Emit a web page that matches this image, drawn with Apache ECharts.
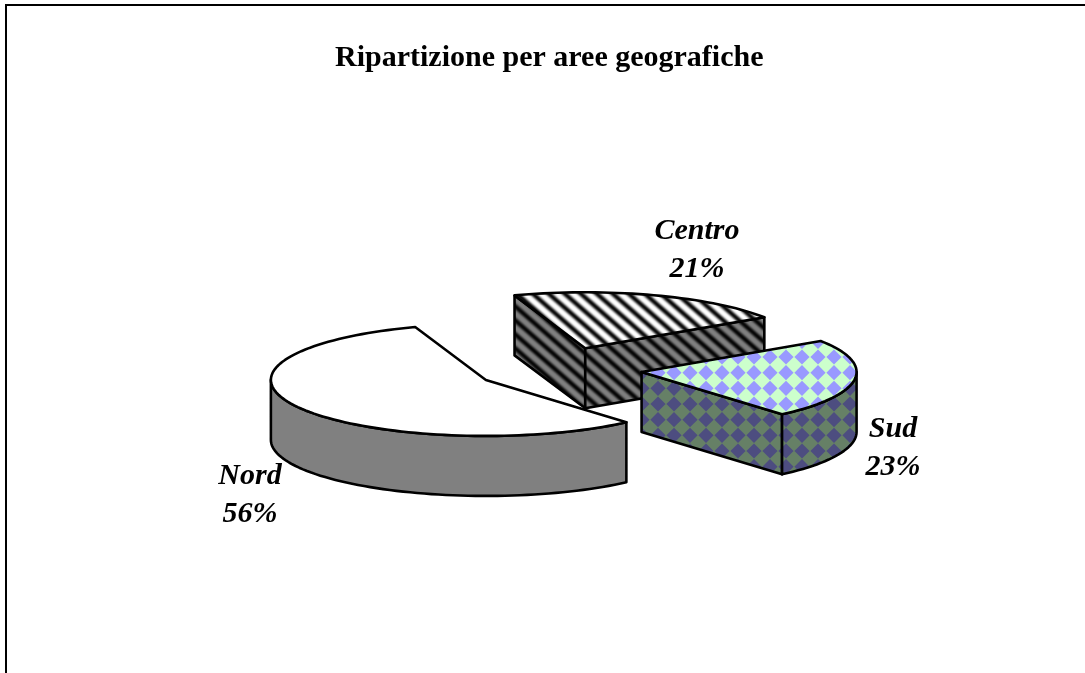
<!DOCTYPE html>
<html>
<head>
<meta charset="utf-8">
<title>Ripartizione per aree geografiche</title>
<style>
  html, body { margin: 0; padding: 0; background: #fff; }
  #chart { width: 1085px; height: 673px; }
</style>
<script src="https://cdn.jsdelivr.net/npm/echarts@6/dist/echarts.min.js"></script>
</head>
<body>
<div id="chart"></div>
<script>
var chartTitle = 'Ripartizione per aree geografiche'
var categories = ['Nord', 'Centro', 'Sud']
var shares = [56, 21, 23]

// pie geometry on the page
var centerX = 558.5
var centerY = 369
var radiusX = 215
var radiusY = 56
var depth = 60
var explode = 0.39
var startAngle = 49.2 // degrees, clockwise from east

var labelOffset = {
  Nord: [250, 495],
  Centro: [697, 250],
  Sud: [893, 448]
}

function makeTile (w, h, paint) {
  var c = document.createElement('canvas')
  c.width = w
  c.height = h
  paint(c.getContext('2d'), w, h)
  return { image: c, repeat: 'repeat' }
}

// tile sizes and phases are chosen so the pattern lands like the original on the page
function stripes (back) {
  return makeTile(16, 14, function (ctx, w, h) {
    ctx.fillStyle = back
    ctx.fillRect(0, 0, w, h)
    ctx.strokeStyle = '#000'
    ctx.lineWidth = 4.4
    ctx.filter = 'blur(0.9px)'
    for (var i = -3; i <= 3; i++) {
      ctx.beginPath()
      ctx.moveTo(12 + (i - 3) * w, 6 - 3 * h)
      ctx.lineTo(12 + (i + 3) * w, 6 + 3 * h)
      ctx.stroke()
    }
  })
}

function checks (back, front) {
  var rowH = 47 / 3
  return makeTile(16, 47, function (ctx, w, h) {
    ctx.fillStyle = back
    ctx.fillRect(0, 0, w, h)
    ctx.fillStyle = front
    ctx.filter = 'blur(0.5px)'
    for (var i = -1; i <= 1; i++) {
      for (var j = -3; j <= 3; j++) {
        var x = 2 + i * w
        var y = 28 + j * rowH
        ctx.beginPath()
        ctx.moveTo(x, y - 7.6)
        ctx.lineTo(x + 7.6, y)
        ctx.lineTo(x, y + 7.6)
        ctx.lineTo(x - 7.6, y)
        ctx.closePath()
        ctx.fill()
      }
    }
  })
}

var faceFill = {
  Nord: { top: '#ffffff', side: '#808080' },
  Centro: { top: stripes('#ffffff'), side: stripes('#808080') },
  Sud: { top: checks('#ccffcc', '#9999ff'), side: checks('#668066', '#4d4d80') }
}

function rad (deg) {
  return deg * Math.PI / 180
}

function arcPoints (cx, cy, from, to) {
  var pts = []
  var n = Math.max(2, Math.ceil((to - from) / 2))
  for (var i = 0; i <= n; i++) {
    var a = rad(from + (to - from) * i / n)
    pts.push([cx + radiusX * Math.cos(a), cy + radiusY * Math.sin(a)])
  }
  return pts
}

function lowered (pts) {
  return pts.map(function (p) { return [p[0], p[1] + depth] }).reverse()
}

var total = shares.reduce(function (a, b) { return a + b }, 0)

function renderSlice (params, api) {
  var idx = params.dataIndex
  var name = categories[idx]
  var before = 0
  for (var i = 0; i < idx; i++) before += shares[i]
  var from = startAngle + before / total * 360
  var to = from + shares[idx] / total * 360
  var mid = rad((from + to) / 2)
  var cx = centerX + Math.cos(mid) * explode * radiusX
  var cy = centerY + Math.sin(mid) * explode * radiusY
  var z = Math.round(Math.sin(mid) * 100)
  var fill = faceFill[name]
  var line = { stroke: '#000', lineWidth: 2.6, lineJoin: 'round' }
  var children = []

  function face (points, style) {
    children.push({
      type: 'polygon',
      z2: z,
      shape: { points: points },
      style: Object.assign({}, line, style)
    })
  }

  // flat walls along the two radii, only when they look toward the viewer
  if (Math.sin(rad(from - 90)) > 0) {
    var a = arcPoints(cx, cy, from, from)[0]
    var wa = [[cx, cy], a]
    face(wa.concat(lowered(wa)), { fill: fill.side })
  }
  if (Math.sin(rad(to + 90)) > 0) {
    var b = arcPoints(cx, cy, to, to)[0]
    var wb = [[cx, cy], b]
    face(wb.concat(lowered(wb)), { fill: fill.side })
  }

  // curved wall: front part of the rim
  for (var k = 0; k <= 1; k++) {
    var lo = Math.max(from, k * 360)
    var hi = Math.min(to, k * 360 + 180)
    if (hi > lo) {
      var rim = arcPoints(cx, cy, lo, hi)
      face(rim.concat(lowered(rim)), { fill: fill.side })
    }
  }

  face([[cx, cy]].concat(arcPoints(cx, cy, from, to)), { fill: fill.top })

  children.push({
    type: 'text',
    z2: 200,
    style: {
      x: labelOffset[name][0],
      y: labelOffset[name][1],
      text: name + '\n' + shares[idx] + '%',
      fill: '#000',
      font: 'italic bold 30px "Liberation Serif"',
      lineHeight: 38,
      align: 'center',
      verticalAlign: 'middle'
    }
  })

  return { type: 'group', children: children }
}

var chart = echarts.init(document.getElementById('chart'))
chart.setOption({
  backgroundColor: '#fff',
  animation: false,
  title: {
    text: chartTitle,
    left: 330,
    top: 38,
    textStyle: {
      fontFamily: 'Liberation Serif',
      fontWeight: 'bold',
      fontSize: 30,
      color: '#000'
    }
  },
  graphic: [
    { type: 'line', shape: { x1: 5, y1: 5, x2: 1085, y2: 5 }, style: { stroke: '#000', lineWidth: 2 } },
    { type: 'line', shape: { x1: 6, y1: 4, x2: 6, y2: 673 }, style: { stroke: '#000', lineWidth: 2 } }
  ],
  series: [
    {
      type: 'custom',
      coordinateSystem: 'none',
      renderItem: renderSlice,
      silent: true,
      data: shares
    }
  ]
})
</script>
</body>
</html>
